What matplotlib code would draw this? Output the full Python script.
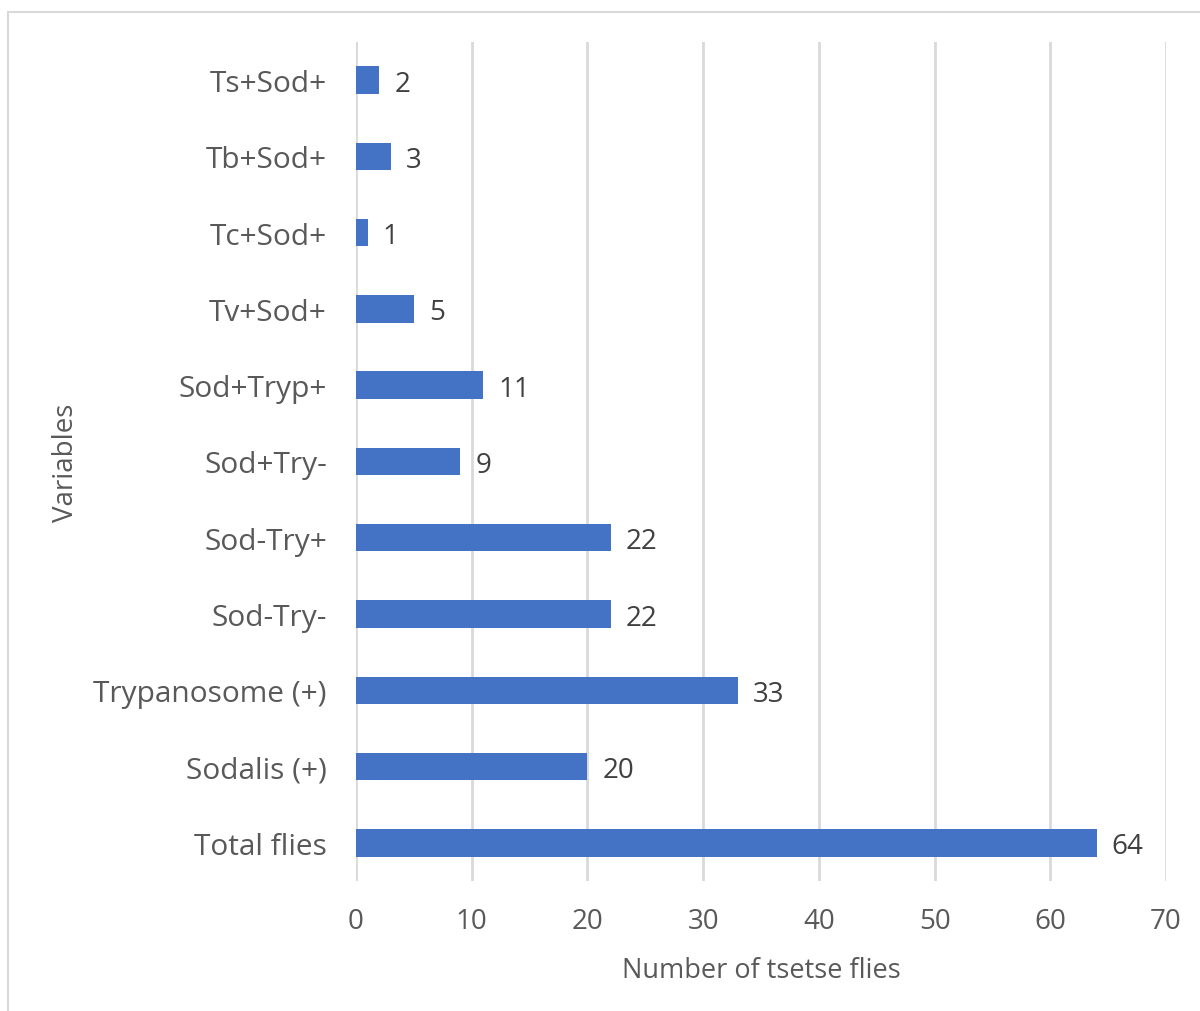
import matplotlib
matplotlib.use("Agg")
import matplotlib.pyplot as plt
from matplotlib.patches import Rectangle

# categories listed bottom to top
variables = ["Total flies", "Sodalis (+)", "Trypanosome (+)", "Sod-Try-", "Sod-Try+",
             "Sod+Try-", "Sod+Tryp+", "Tv+Sod+", "Tc+Sod+", "Tb+Sod+", "Ts+Sod+"]
fly_counts = [64, 20, 33, 22, 22, 9, 11, 5, 1, 3, 2]
x_ticks = [0, 10, 20, 30, 40, 50, 60, 70]

plt.rcParams['font.family'] = ['Open Sans', 'DejaVu Sans']

fig = plt.figure(figsize=(12, 10.12), dpi=100)
ax = fig.add_axes([0.2967, 0.1285, 0.675, 0.829])

ypos = range(len(variables))
ax.barh(ypos, fly_counts, height=0.36, color="#4472C4", zorder=3)
for y, v in zip(ypos, fly_counts):
    ax.text(v + 1.3, y, str(v), va="center_baseline", ha="left", fontsize=20, color="#404040")

ax.set_xlim(0, 70)
ax.set_ylim(-0.5, len(variables) - 0.5)
ax.set_xticks(x_ticks)
ax.set_yticks(list(ypos))
ax.set_yticklabels(variables)
ax.tick_params(axis="y", length=0, pad=21, labelsize=21.5, labelcolor="#595959")
ax.tick_params(axis="x", length=0, pad=19, labelsize=20, labelcolor="#595959")
ax.grid(axis="x", color="#D9D9D9", linewidth=2, zorder=0)
for s in ax.spines.values():
    s.set_visible(False)

ax.set_xlabel("Number of tsetse flies", fontsize=19.5, color="#595959", labelpad=15)
ax.set_ylabel("Variables", fontsize=20, color="#595959")
ax.yaxis.set_label_coords(-0.341, 0.5)

# chart border
fig.patches.append(Rectangle((8 / 1200, -0.1), 1.2, 1.1 - 13 / 1012, transform=fig.transFigure,
                             fill=False, edgecolor="#D9D9D9", linewidth=1.5))

fig.savefig("out.png", dpi=100)
